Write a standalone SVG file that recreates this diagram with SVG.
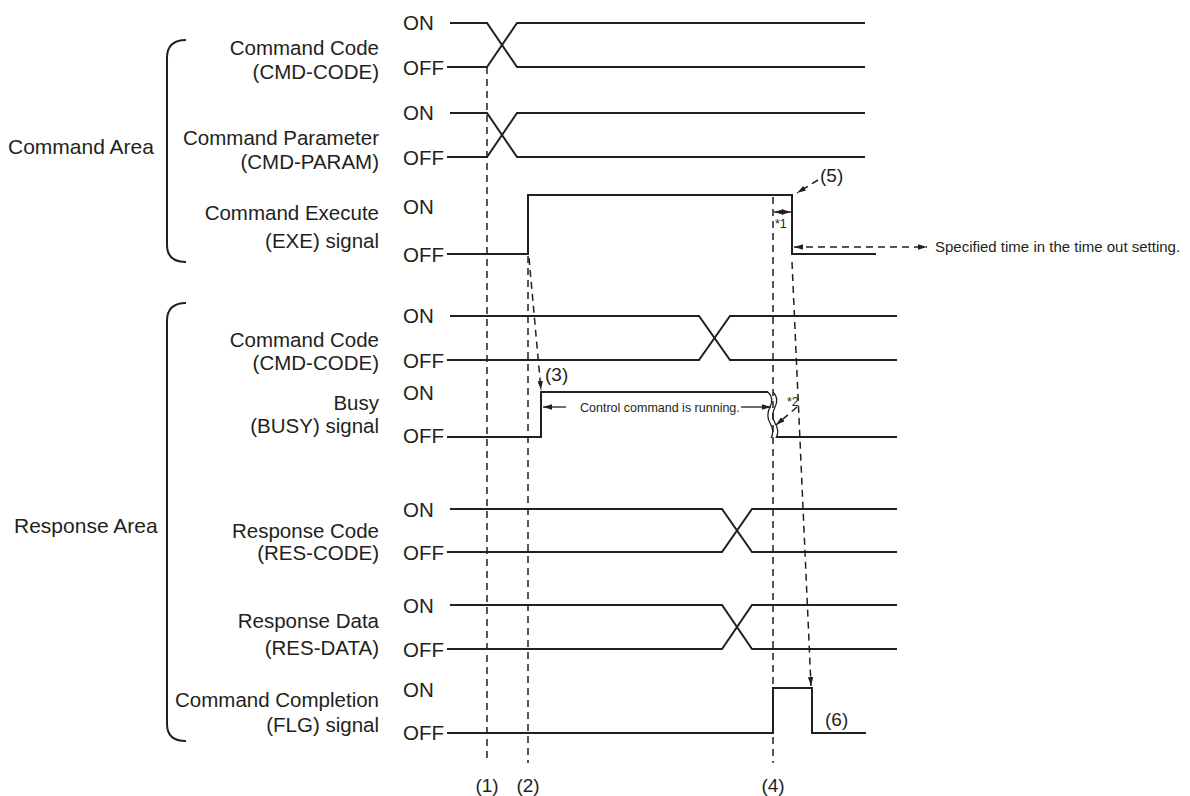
<svg xmlns="http://www.w3.org/2000/svg" width="1190" height="796" viewBox="0 0 1190 796">
<defs>
<style>
text{font-family:"Liberation Sans",Arial,sans-serif;fill:#231f20}
.lbl{font-size:20.5px;text-anchor:end}
.st{font-size:20.5px}
.num{font-size:19px}
.sm{font-size:12.5px}
.sig{fill:none;stroke:#231f20;stroke-width:2}
.dash{fill:none;stroke:#231f20;stroke-width:1.5;stroke-dasharray:7,5}
.thin{fill:none;stroke:#231f20;stroke-width:1.3}
.brk{fill:none;stroke:#231f20;stroke-width:2}
</style>
<marker id="ah" viewBox="0 0 10 6" refX="10" refY="3" markerWidth="9" markerHeight="5.4" markerUnits="userSpaceOnUse" orient="auto-start-reverse">
<path d="M0,0 L10,3 L0,6 z" fill="#231f20"/>
</marker>
</defs>
<rect width="1190" height="796" fill="#fff"/>

<g id="command-area">
<text class="st" x="8" y="154" style="font-size:21px">Command Area</text>
<path class="brk" d="M186,40 C173,40 167,47 167,58 L167,245 C167,256 173,262 186,262"/>
</g>
<g id="response-area">
<text class="st" x="14" y="533" style="font-size:21px">Response Area</text>
<path class="brk" d="M186,303 C173,303 167,310 167,321 L167,724 C167,735 173,741 186,741"/>
</g>

<g id="cmd-code">
<text class="lbl" x="379" y="55">Command Code</text>
<text class="lbl" x="379" y="79">(CMD-CODE)</text>
<text class="st" x="403" y="30">ON</text>
<text class="st" x="403" y="75">OFF</text>
<path class="sig" d="M450,23 H487 L517,67 H865"/>
<path class="sig" d="M447,67 H487 L517,23 H865"/>
</g>
<g id="cmd-param">
<text class="lbl" x="379" y="145">Command Parameter</text>
<text class="lbl" x="379" y="169">(CMD-PARAM)</text>
<text class="st" x="403" y="120">ON</text>
<text class="st" x="403" y="165">OFF</text>
<path class="sig" d="M450,113 H487 L517,157 H865"/>
<path class="sig" d="M447,157 H487 L517,113 H865"/>
</g>
<g id="exe">
<text class="lbl" x="379" y="220">Command Execute</text>
<text class="lbl" x="379" y="248">(EXE) signal</text>
<text class="st" x="403" y="214">ON</text>
<text class="st" x="403" y="262">OFF</text>
<path class="sig" d="M447,254 H528 V195 H792 V254 H876"/>
</g>
<g id="res-cmd-code">
<text class="lbl" x="379" y="347">Command Code</text>
<text class="lbl" x="379" y="370">(CMD-CODE)</text>
<text class="st" x="403" y="323">ON</text>
<text class="st" x="403" y="368">OFF</text>
<path class="sig" d="M450,316 H699 L730,360 H897"/>
<path class="sig" d="M447,360 H699 L730,316 H897"/>
</g>
<g id="busy">
<text class="lbl" x="379" y="410">Busy</text>
<text class="lbl" x="379" y="433">(BUSY) signal</text>
<text class="st" x="403" y="400">ON</text>
<text class="st" x="403" y="443">OFF</text>
<path class="sig" d="M447,437 H541 V392 H768"/>
<path class="sig" d="M777,437 H897"/>
<path class="thin" d="M768,392 c4,4 5,9 2,15 c-3,6 -3,11 0,16 c3,5 4,10 1,15"/>
<path class="thin" d="M773,392 c4,4 5,9 2,15 c-3,6 -3,11 0,16 c3,5 4,10 1,15"/>
</g>
<g id="res-code">
<text class="lbl" x="379" y="538">Response Code</text>
<text class="lbl" x="379" y="560">(RES-CODE)</text>
<text class="st" x="403" y="517">ON</text>
<text class="st" x="403" y="560">OFF</text>
<path class="sig" d="M450,509 H722 L752,552 H897"/>
<path class="sig" d="M447,552 H722 L752,509 H897"/>
</g>
<g id="res-data">
<text class="lbl" x="379" y="628">Response Data</text>
<text class="lbl" x="379" y="655">(RES-DATA)</text>
<text class="st" x="403" y="613">ON</text>
<text class="st" x="403" y="657">OFF</text>
<path class="sig" d="M450,605 H722 L752,649 H897"/>
<path class="sig" d="M447,649 H722 L752,605 H897"/>
</g>
<g id="flg">
<text class="lbl" x="379" y="707">Command Completion</text>
<text class="lbl" x="379" y="732">(FLG) signal</text>
<text class="st" x="403" y="697">ON</text>
<text class="st" x="403" y="740">OFF</text>
<path class="sig" d="M447,733 H773 V688 H812 V733 H866"/>
</g>

<g id="connectors">
<path class="dash" d="M487,67 V763"/>
<path class="dash" d="M528,256 V763"/>
<path class="dash" d="M773,197 V763"/>
<path class="dash" d="M529,258 L541,390" marker-end="url(#ah)"/>
<path class="dash" d="M792,262 L811,686" marker-end="url(#ah)"/>
<path class="dash" d="M818,180 L797,193" marker-end="url(#ah)"/>
<path class="dash" d="M797,407 L776,425" marker-end="url(#ah)"/>
<path class="dash" d="M794,247 H927" marker-start="url(#ah)" marker-end="url(#ah)"/>
<path class="thin" d="M774,212 H791" marker-start="url(#ah)" marker-end="url(#ah)"/>
<path class="thin" d="M566,407 H543" marker-end="url(#ah)"/>
<path class="thin" d="M741,407 H771" marker-end="url(#ah)"/>
</g>

<g id="annotations">
<text class="num" x="820" y="182">(5)</text>
<text class="num" x="545" y="381">(3)</text>
<text class="num" x="825" y="726">(6)</text>
<text class="num" x="487" y="792" text-anchor="middle">(1)</text>
<text class="num" x="528" y="792" text-anchor="middle">(2)</text>
<text class="num" x="773" y="792" text-anchor="middle">(4)</text>
<text class="sm" x="775" y="228">*1</text>
<text class="sm" x="787" y="406">*2</text>
<text class="sm" x="580" y="412">Control command is running.</text>
<text class="sm" x="935" y="252" style="font-size:15px">Specified time in the time out setting.</text>
</g>
</svg>
